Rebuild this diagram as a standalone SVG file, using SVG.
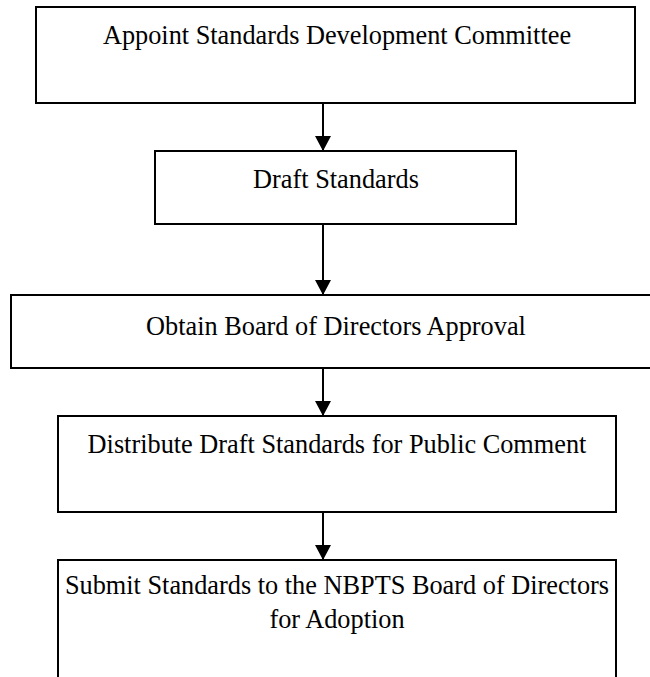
<svg xmlns="http://www.w3.org/2000/svg" width="650" height="677" viewBox="0 0 650 677">
  <style>
    .box { fill: #ffffff; stroke: #000000; stroke-width: 2; }
    .label { font-family: "Liberation Serif", "Times New Roman", serif; font-size: 26.3px; fill: #000000; text-anchor: middle; }
    .link { stroke: #000000; stroke-width: 2; fill: none; }
  </style>
  <defs>
    <marker id="arrow" markerWidth="16" markerHeight="16" refX="15" refY="8" orient="auto" markerUnits="userSpaceOnUse">
      <path d="M0,0 L15,8 L0,16 Z" fill="#000000"/>
    </marker>
  </defs>
  <rect width="650" height="677" fill="#ffffff"/>

  <!-- process steps, top to bottom -->
  <g id="node-appoint">
    <rect class="box" x="36" y="7" width="599" height="96"/>
    <text class="label" x="337" y="44">Appoint Standards Development Committee</text>
  </g>
  <g id="node-draft">
    <rect class="box" x="155" y="151" width="361" height="73"/>
    <text class="label" x="336" y="188">Draft Standards</text>
  </g>
  <g id="node-approval">
    <!-- runs past the right edge of the page -->
    <rect class="box" x="11" y="295" width="660" height="73"/>
    <text class="label" x="336" y="335">Obtain Board of Directors Approval</text>
  </g>
  <g id="node-distribute">
    <rect class="box" x="58" y="416" width="558" height="96"/>
    <text class="label" x="337" y="453">Distribute Draft Standards for Public Comment</text>
  </g>
  <g id="node-submit">
    <!-- runs past the bottom edge of the page -->
    <rect class="box" x="58" y="560" width="558" height="130"/>
    <text class="label" x="337" y="594">Submit Standards to the NBPTS Board of Directors</text>
    <text class="label" x="337" y="628">for Adoption</text>
  </g>

  <g id="connectors">
    <line class="link" x1="323" y1="103" x2="323" y2="151" marker-end="url(#arrow)"/>
    <line class="link" x1="323" y1="224" x2="323" y2="295" marker-end="url(#arrow)"/>
    <line class="link" x1="323" y1="368" x2="323" y2="416" marker-end="url(#arrow)"/>
    <line class="link" x1="323" y1="512" x2="323" y2="560" marker-end="url(#arrow)"/>
  </g>
</svg>
